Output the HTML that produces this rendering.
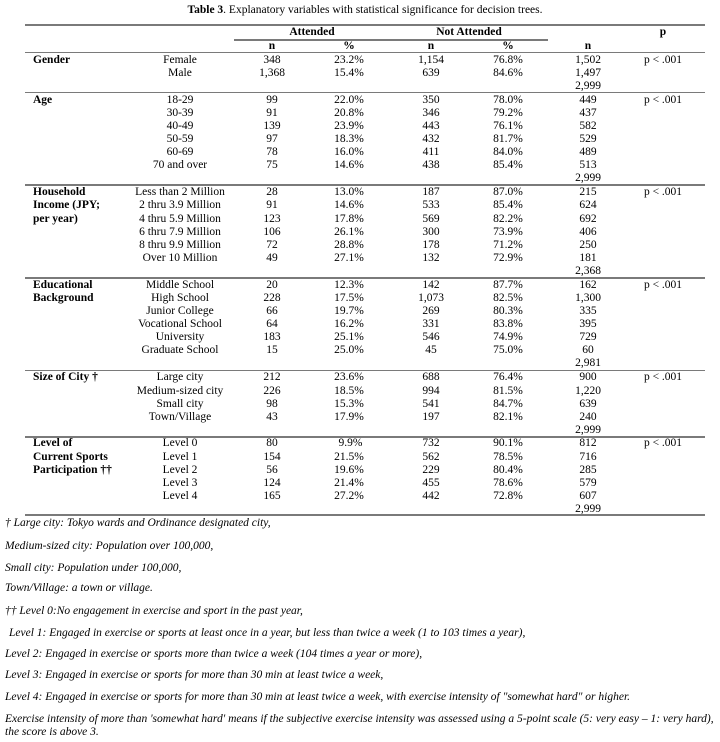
<!DOCTYPE html>
<html>
<head>
<meta charset="utf-8">
<style>
html,body{margin:0;padding:0;background:#fff;}
body{width:720px;height:742px;position:relative;overflow:hidden;font-family:"Liberation Serif","Times New Roman",serif;font-size:11.5px;color:#000;}
.r{position:absolute;left:0;width:720px;height:13px;line-height:13px;white-space:nowrap;}
.r span{position:absolute;top:0;text-align:center;white-space:nowrap;}
.k{left:33px !important;text-align:left !important;font-weight:bold;}
.a{left:100px;width:160px;}
.b{left:232px;width:80px;}
.c{left:309px;width:80px;}
.d{left:391px;width:80px;}
.e{left:468px;width:80px;}
.f{left:548px;width:80px;}
.g{left:613px;width:100px;}
.ln{position:absolute;left:25px;width:680px;background:#7a7a7a;}
.fn{position:absolute;left:5px;font-style:italic;white-space:nowrap;line-height:13px;}
.h{font-weight:bold;}
</style>
</head>
<body>
<div class="r" style="top:3.5px;"><span style="left:0;width:730px;"><b>Table 3</b>. Explanatory variables with statistical significance for decision trees.</span></div>

<div class="ln" style="top:24px;height:2px;"></div>
<div class="ln" style="top:38.5px;height:2px;left:234px;width:314px;"></div>
<div class="ln" style="top:52px;height:1px;"></div>
<div class="ln" style="top:92px;height:1px;"></div>
<div class="ln" style="top:184px;height:2px;"></div>
<div class="ln" style="top:276.5px;height:2px;"></div>
<div class="ln" style="top:369.5px;height:1px;"></div>
<div class="ln" style="top:436px;height:2px;"></div>
<div class="ln" style="top:514px;height:2px;"></div>

<!-- header -->
<div class="r h" style="top:26.2px;"><span style="left:262px;width:100px;">Attended</span><span style="left:419px;width:100px;">Not Attended</span><span class="g">p</span></div>
<div class="r h" style="top:39.5px;"><span class="b">n</span><span class="c">%</span><span class="d">n</span><span class="e">%</span><span class="f">n</span></div>

<!-- Gender -->
<div class="r" style="top:54px;"><span class="k">Gender</span><span class="a">Female</span><span class="b">348</span><span class="c">23.2%</span><span class="d">1,154</span><span class="e">76.8%</span><span class="f">1,502</span><span class="g">p &lt; .001</span></div>
<div class="r" style="top:67px;"><span class="a">Male</span><span class="b">1,368</span><span class="c">15.4%</span><span class="d">639</span><span class="e">84.6%</span><span class="f">1,497</span></div>
<div class="r" style="top:79.5px;"><span class="f">2,999</span></div>

<!-- Age -->
<div class="r" style="top:94.2px;"><span class="k">Age</span><span class="a">18-29</span><span class="b">99</span><span class="c">22.0%</span><span class="d">350</span><span class="e">78.0%</span><span class="f">449</span><span class="g">p &lt; .001</span></div>
<div class="r" style="top:107.2px;"><span class="a">30-39</span><span class="b">91</span><span class="c">20.8%</span><span class="d">346</span><span class="e">79.2%</span><span class="f">437</span></div>
<div class="r" style="top:120.2px;"><span class="a">40-49</span><span class="b">139</span><span class="c">23.9%</span><span class="d">443</span><span class="e">76.1%</span><span class="f">582</span></div>
<div class="r" style="top:133.2px;"><span class="a">50-59</span><span class="b">97</span><span class="c">18.3%</span><span class="d">432</span><span class="e">81.7%</span><span class="f">529</span></div>
<div class="r" style="top:146.2px;"><span class="a">60-69</span><span class="b">78</span><span class="c">16.0%</span><span class="d">411</span><span class="e">84.0%</span><span class="f">489</span></div>
<div class="r" style="top:159.2px;"><span class="a">70 and over</span><span class="b">75</span><span class="c">14.6%</span><span class="d">438</span><span class="e">85.4%</span><span class="f">513</span></div>
<div class="r" style="top:172px;"><span class="f">2,999</span></div>

<!-- Household -->
<div class="r" style="top:185.8px;"><span class="k">Household</span><span class="a">Less than 2 Million</span><span class="b">28</span><span class="c">13.0%</span><span class="d">187</span><span class="e">87.0%</span><span class="f">215</span><span class="g">p &lt; .001</span></div>
<div class="r" style="top:199px;"><span class="k">Income (JPY;</span><span class="a">2 thru 3.9 Million</span><span class="b">91</span><span class="c">14.6%</span><span class="d">533</span><span class="e">85.4%</span><span class="f">624</span></div>
<div class="r" style="top:212.5px;"><span class="k">per year)</span><span class="a">4 thru 5.9 Million</span><span class="b">123</span><span class="c">17.8%</span><span class="d">569</span><span class="e">82.2%</span><span class="f">692</span></div>
<div class="r" style="top:225.8px;"><span class="a">6 thru 7.9 Million</span><span class="b">106</span><span class="c">26.1%</span><span class="d">300</span><span class="e">73.9%</span><span class="f">406</span></div>
<div class="r" style="top:238.8px;"><span class="a">8 thru 9.9 Million</span><span class="b">72</span><span class="c">28.8%</span><span class="d">178</span><span class="e">71.2%</span><span class="f">250</span></div>
<div class="r" style="top:251.8px;"><span class="a">Over 10 Million</span><span class="b">49</span><span class="c">27.1%</span><span class="d">132</span><span class="e">72.9%</span><span class="f">181</span></div>
<div class="r" style="top:264.5px;"><span class="f">2,368</span></div>

<!-- Education -->
<div class="r" style="top:278.5px;"><span class="k">Educational</span><span class="a">Middle School</span><span class="b">20</span><span class="c">12.3%</span><span class="d">142</span><span class="e">87.7%</span><span class="f">162</span><span class="g">p &lt; .001</span></div>
<div class="r" style="top:291.8px;"><span class="k">Background</span><span class="a">High School</span><span class="b">228</span><span class="c">17.5%</span><span class="d">1,073</span><span class="e">82.5%</span><span class="f">1,300</span></div>
<div class="r" style="top:304.5px;"><span class="a">Junior College</span><span class="b">66</span><span class="c">19.7%</span><span class="d">269</span><span class="e">80.3%</span><span class="f">335</span></div>
<div class="r" style="top:317.5px;"><span class="a">Vocational School</span><span class="b">64</span><span class="c">16.2%</span><span class="d">331</span><span class="e">83.8%</span><span class="f">395</span></div>
<div class="r" style="top:330.5px;"><span class="a">University</span><span class="b">183</span><span class="c">25.1%</span><span class="d">546</span><span class="e">74.9%</span><span class="f">729</span></div>
<div class="r" style="top:343.5px;"><span class="a">Graduate School</span><span class="b">15</span><span class="c">25.0%</span><span class="d">45</span><span class="e">75.0%</span><span class="f">60</span></div>
<div class="r" style="top:356.5px;"><span class="f">2,981</span></div>

<!-- Size of City -->
<div class="r" style="top:370.8px;"><span class="k">Size of City †</span><span class="a">Large city</span><span class="b">212</span><span class="c">23.6%</span><span class="d">688</span><span class="e">76.4%</span><span class="f">900</span><span class="g">p &lt; .001</span></div>
<div class="r" style="top:385px;"><span class="a">Medium-sized city</span><span class="b">226</span><span class="c">18.5%</span><span class="d">994</span><span class="e">81.5%</span><span class="f">1,220</span></div>
<div class="r" style="top:397.8px;"><span class="a">Small city</span><span class="b">98</span><span class="c">15.3%</span><span class="d">541</span><span class="e">84.7%</span><span class="f">639</span></div>
<div class="r" style="top:410.8px;"><span class="a">Town/Village</span><span class="b">43</span><span class="c">17.9%</span><span class="d">197</span><span class="e">82.1%</span><span class="f">240</span></div>
<div class="r" style="top:423.5px;"><span class="f">2,999</span></div>

<!-- Level -->
<div class="r" style="top:436.8px;"><span class="k">Level of</span><span class="a">Level 0</span><span class="b">80</span><span class="c">&nbsp;9.9%</span><span class="d">732</span><span class="e">90.1%</span><span class="f">812</span><span class="g">p &lt; .001</span></div>
<div class="r" style="top:450.8px;"><span class="k">Current Sports</span><span class="a">Level 1</span><span class="b">154</span><span class="c">21.5%</span><span class="d">562</span><span class="e">78.5%</span><span class="f">716</span></div>
<div class="r" style="top:463.5px;"><span class="k">Participation ††</span><span class="a">Level 2</span><span class="b">56</span><span class="c">19.6%</span><span class="d">229</span><span class="e">80.4%</span><span class="f">285</span></div>
<div class="r" style="top:476.8px;"><span class="a">Level 3</span><span class="b">124</span><span class="c">21.4%</span><span class="d">455</span><span class="e">78.6%</span><span class="f">579</span></div>
<div class="r" style="top:489.5px;"><span class="a">Level 4</span><span class="b">165</span><span class="c">27.2%</span><span class="d">442</span><span class="e">72.8%</span><span class="f">607</span></div>
<div class="r" style="top:503px;"><span class="f">2,999</span></div>

<!-- footnotes -->
<div class="fn" style="top:516.5px;">† Large city: Tokyo wards and Ordinance designated city,</div>
<div class="fn" style="top:540px;">Medium-sized city: Population over 100,000,</div>
<div class="fn" style="top:561.5px;">Small city: Population under 100,000,</div>
<div class="fn" style="top:582px;">Town/Village: a town or village.</div>
<div class="fn" style="top:604.5px;">†† Level 0:No engagement in exercise and sport in the past year,</div>
<div class="fn" style="top:626.5px;left:9px;">Level 1: Engaged in exercise or sports at least once in a year, but less than twice a week (1 to 103 times a year),</div>
<div class="fn" style="top:648px;">Level 2: Engaged in exercise or sports more than twice a week (104 times a year or more),</div>
<div class="fn" style="top:668.5px;">Level 3: Engaged in exercise or sports for more than 30 min at least twice a week,</div>
<div class="fn" style="top:690.5px;">Level 4: Engaged in exercise or sports for more than 30 min at least twice a week, with exercise intensity of "somewhat hard" or higher.</div>
<div class="fn" style="top:712.5px;">Exercise intensity of more than 'somewhat hard' means if the subjective exercise intensity was assessed using a 5-point scale (5: very easy – 1: very hard),</div>
<div class="fn" style="top:725.5px;">the score is above 3.</div>
</body>
</html>
